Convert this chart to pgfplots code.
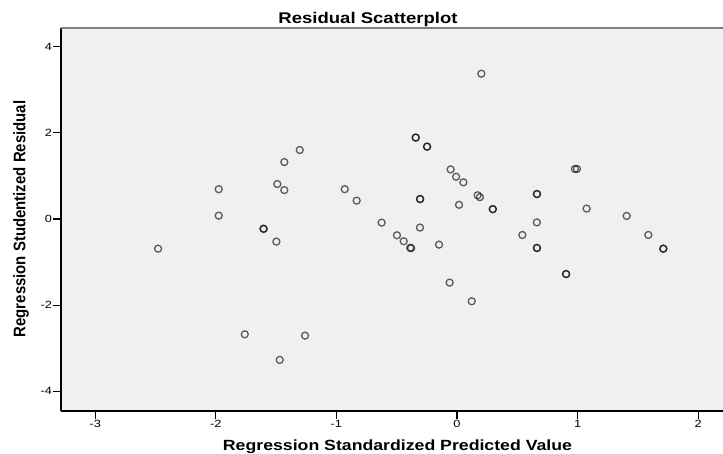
\documentclass[border=0pt]{standalone}
\usepackage{fontspec}
\setmainfont{Liberation Sans}
\usepackage{graphicx}
\usepackage{pgfplots}
\pgfplotsset{compat=1.18}
\definecolor{bgc}{HTML}{F0F0F0}
\definecolor{topc}{HTML}{808080}
\newcommand\sx[1]{\scalebox{1.22}[1]{#1}}
\begin{document}
\begin{tikzpicture}
\begin{axis}[
  scale only axis,
  width=662bp, height=383bp,
  xmin=-3.284, xmax=2.206,
  ymin=-4.455, ymax=4.43,
  axis x line*=bottom, axis y line*=left,
  axis line style={black, line width=1.2bp},
  axis background/.style={fill=bgc},
  tick align=outside,
  major tick length=7.5bp,
  tick style={black, line width=1.1bp},
  xtick={-3,-2,-1,0,1,2},
  xticklabels={\sx{-3},\sx{-2},\sx{-1},\sx{0},\sx{1},\sx{2}},
  ytick={-4,-2,0,2,4},
  yticklabels={\sx{-4},\sx{-2},\sx{0},\sx{2},\sx{4}},
  ticklabel style={font=\fontsize{10.5}{12}\selectfont, inner sep=1.2bp},
  clip=false,
]
\addplot[only marks, mark=o, mark size=3.5bp,
  mark options={draw=black, draw opacity=0.62, line width=1.3bp}]
  table {
x y
-2.479 -0.689
-1.976 0.690
-1.976 0.077
-1.606 -0.225
-1.602 -0.232
-1.498 -0.526
-1.490 0.810
-1.432 1.320
-1.432 0.670
-1.304 1.600
-1.760 -2.676
-1.260 -2.707
-1.470 -3.270
-0.931 0.690
-0.832 0.425
-0.625 -0.085
-0.498 -0.379
-0.442 -0.518
-0.388 -0.670
-0.380 -0.676
-0.343 1.890
-0.341 1.886
-0.249 1.680
-0.247 1.676
-0.307 0.464
-0.305 0.460
-0.307 -0.200
-0.149 -0.596
-0.053 1.150
-0.007 0.980
0.053 0.850
0.017 0.328
0.171 0.550
0.190 0.505
0.202 3.370
0.296 0.230
0.298 0.226
-0.061 -1.477
0.122 -1.910
0.542 -0.371
0.662 0.580
0.664 0.576
0.662 -0.080
0.662 -0.670
0.664 -0.676
0.904 -1.276
0.906 -1.280
0.978 1.160
0.995 1.160
1.075 0.240
1.407 0.070
1.587 -0.371
1.710 -0.686
1.712 -0.692
};
\draw[topc, line width=2bp] (rel axis cs:0,1) -- (rel axis cs:1,1);
\end{axis}
\node[anchor=base, font=\fontsize{15.5}{18}\selectfont\bfseries]
  at ([shift={(307bp,387.7bp)}]current axis.south west) {\scalebox{1.2}[1]{Residual Scatterplot}};
\node[anchor=base, font=\fontsize{14.8}{18}\selectfont\bfseries]
  at ([shift={(336.5bp,-39.5bp)}]current axis.south west) {\scalebox{1.2}[1]{Regression Standardized Predicted Value}};
\node[anchor=base, rotate=90, font=\fontsize{15}{18}\selectfont\bfseries]
  at ([shift={(-35.5bp,192bp)}]current axis.south west) {\scalebox{1}[1.12]{Regression Studentized Residual}};
\pgfresetboundingbox
\path[use as bounding box] ([shift={(-61bp,-43bp)}]current axis.south west) rectangle ([shift={(0bp,28bp)}]current axis.north east);
\end{tikzpicture}
\end{document}
